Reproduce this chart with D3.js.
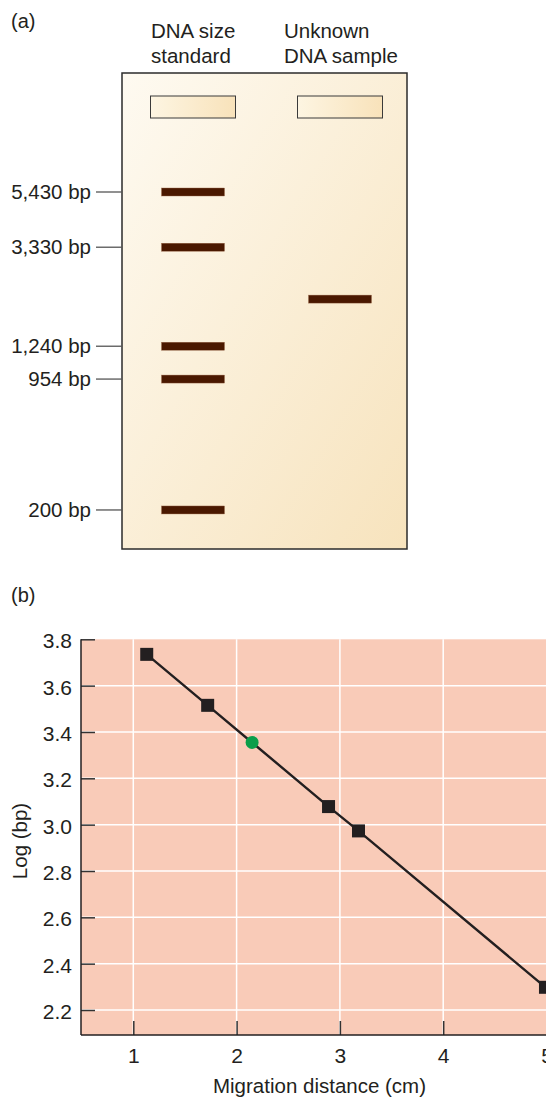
<!DOCTYPE html>
<meta charset="utf-8">
<script src="https://cdn.jsdelivr.net/npm/d3@7"></script>
<style>
  body { margin: 0; background: #fff; }
  svg text { font-family: "Liberation Sans", Arial, Helvetica, sans-serif; fill: #231f20; }
</style>
<div id="chart"></div>
<script>
// ---- data ----
// (a) gel
var lanes = ["DNA size standard", "Unknown DNA sample"];
var laneHeaders = [["DNA size", "standard"], ["Unknown", "DNA sample"]];
var standardLabels = ["5,430 bp", "3,330 bp", "1,240 bp", "954 bp", "200 bp"];
// band position along the gel, % of gel length from the top
var standardGelPos = [25.0, 36.6, 57.4, 64.3, 91.8];
var unknownGelPos = [47.5];

// (b) standard curve
var standardDist = [1.13, 1.72, 2.89, 3.18, 4.99];   // cm
var standardLog = [3.735, 3.515, 3.078, 2.973, 2.298]; // log(bp)
var unknownDist = [2.15];
var unknownLog = [3.355];
var yTicks = [2.2, 2.4, 2.6, 2.8, 3.0, 3.2, 3.4, 3.6, 3.8];
var xTicks = [1, 2, 3, 4, 5];

// ---- setup ----
var W = 546, H = 1097;
var svg = d3.select("#chart").append("svg")
    .attr("width", W)
    .attr("height", H);

var defs = svg.append("defs");
var gelGrad = defs.append("linearGradient").attr("id", "gelGrad")
    .attr("x1", "0").attr("y1", "0").attr("x2", "1").attr("y2", "1");
gelGrad.append("stop").attr("offset", "0").attr("stop-color", "#fefaf1");
gelGrad.append("stop").attr("offset", "1").attr("stop-color", "#f7e3bd");

var wellGrad = defs.append("linearGradient").attr("id", "wellGrad")
    .attr("x1", "0").attr("y1", "0").attr("x2", "1").attr("y2", "0");
wellGrad.append("stop").attr("offset", "0").attr("stop-color", "#fdf5e2");
wellGrad.append("stop").attr("offset", "1").attr("stop-color", "#f8e2ba");

// ---------------- (a) ----------------
var gel = { left: 122, top: 73, right: 407, bottom: 549 };

svg.append("text").attr("x", 11).attr("y", 28).style("font-size", "20px").text("(a)");

var laneX = d3.scalePoint().domain(lanes).range([193, 340]);
var gelY = d3.scaleLinear().domain([0, 100]).range([gel.top, gel.bottom]);

svg.append("rect")
    .attr("x", gel.left).attr("y", gel.top)
    .attr("width", gel.right - gel.left).attr("height", gel.bottom - gel.top)
    .attr("fill", "url(#gelGrad)")
    .attr("stroke", "#2b2b2b").attr("stroke-width", 1.5);

// lane headers
var headerX = [151, 284];
laneHeaders.forEach(function(lines, i) {
    var t = svg.append("text").attr("x", headerX[i]).attr("y", 38).style("font-size", "20.5px");
    lines.forEach(function(s, j) {
        t.append("tspan").attr("x", headerX[i]).attr("dy", j ? 25 : 0).text(s);
    });
});

// wells
svg.selectAll(".well").data(lanes).enter().append("rect")
    .attr("class", "well")
    .attr("x", d => laneX(d) - 42.5).attr("y", 96)
    .attr("width", 85).attr("height", 22)
    .attr("fill", "url(#wellGrad)")
    .attr("stroke", "#3a3a3a").attr("stroke-width", 1);

// bands
function bands(pos, lane) {
    svg.append("g").selectAll("rect").data(pos).enter().append("rect")
        .attr("x", laneX(lane) - 31.5)
        .attr("y", d => gelY(d) - 4)
        .attr("width", 63).attr("height", 8)
        .attr("fill", "#4a1800")
        .attr("stroke", "#9c6a4c").attr("stroke-width", 0.4);
}
bands(standardGelPos, lanes[0]);
bands(unknownGelPos, lanes[1]);

// size labels with leader lines
var lbl = svg.append("g").selectAll("g").data(standardGelPos).enter().append("g");
lbl.append("line")
    .attr("x1", 96).attr("x2", gel.left)
    .attr("y1", d => gelY(d)).attr("y2", d => gelY(d))
    .attr("stroke", "#555").attr("stroke-width", 1.3);
lbl.append("text")
    .attr("x", 91).attr("y", d => gelY(d)).attr("dy", "0.35em")
    .attr("text-anchor", "end")
    .style("font-size", "20.5px")
    .text((d, i) => standardLabels[i]);

// ---------------- (b) ----------------
svg.append("text").attr("x", 11).attr("y", 602).style("font-size", "20px").text("(b)");

var plot = { left: 81, top: 639.3, bottom: 1035, right: W };
var x = d3.scaleLinear().domain([1, 5]).range([133.3, 546.5]);
var y = d3.scaleLinear().domain([2.2, 3.8]).range([1010, 639.3]);

svg.append("rect")
    .attr("x", plot.left).attr("y", plot.top)
    .attr("width", plot.right - plot.left).attr("height", plot.bottom - plot.top)
    .attr("fill", "#f9cbb8");

// grid
var grid = svg.append("g").attr("class", "grid");
grid.selectAll(".hg").data(yTicks.slice(0, -1)).enter().append("line")
    .attr("x1", plot.left).attr("x2", plot.right)
    .attr("y1", d => y(d)).attr("y2", d => y(d))
    .attr("stroke", "#fff").attr("stroke-width", 1.5);
grid.selectAll(".vg").data(xTicks.slice(0, -1)).enter().append("line")
    .attr("x1", d => x(d)).attr("x2", d => x(d))
    .attr("y1", plot.top).attr("y2", plot.bottom)
    .attr("stroke", "#fff").attr("stroke-width", 1.5);

// axes
var yAxis = svg.append("g")
    .attr("transform", "translate(" + plot.left + ",0)")
    .call(d3.axisLeft(y).tickValues(yTicks).tickFormat(d3.format(".1f")).tickSize(-14).tickPadding(9));
var xAxis = svg.append("g")
    .attr("transform", "translate(0," + plot.bottom + ")")
    .call(d3.axisBottom(x).tickValues(xTicks).tickFormat(d3.format("d")).tickSize(-14).tickPadding(13));

[yAxis, xAxis].forEach(function(a) {
    a.select(".domain").remove();
    a.selectAll(".tick line").attr("stroke", "#333").attr("stroke-width", 1.5);
    a.selectAll(".tick text").style("font-size", "21px")
        .style("font-family", '"Liberation Sans", Arial, sans-serif').attr("fill", "#231f20");
});
yAxis.selectAll(".tick text").attr("dy", "0.4em");

svg.append("line")
    .attr("x1", plot.left).attr("x2", plot.left)
    .attr("y1", plot.top).attr("y2", plot.bottom)
    .attr("stroke", "#231f20").attr("stroke-width", 1.5);
svg.append("line")
    .attr("x1", plot.left).attr("x2", plot.right)
    .attr("y1", plot.bottom).attr("y2", plot.bottom)
    .attr("stroke", "#231f20").attr("stroke-width", 1.5);

// standard curve line
var pts = standardDist.map((d, i) => ({ d: d, v: standardLog[i] }));
var line = d3.line().x(p => x(p.d)).y(p => y(p.v));
svg.append("path")
    .datum(pts)
    .attr("d", line)
    .attr("fill", "none")
    .attr("stroke", "#231f20")
    .attr("stroke-width", 2.4);

svg.append("g").selectAll("rect").data(pts).enter().append("rect")
    .attr("x", p => x(p.d) - 6.5).attr("y", p => y(p.v) - 6.5)
    .attr("width", 13).attr("height", 13)
    .attr("fill", "#231f20");

svg.append("g").selectAll("circle").data(unknownDist).enter().append("circle")
    .attr("cx", d => x(d)).attr("cy", (d, i) => y(unknownLog[i]))
    .attr("r", 6.5)
    .attr("fill", "#0a9e4a");

// axis titles
svg.append("text")
    .attr("x", 319.5).attr("y", 1093)
    .attr("text-anchor", "middle")
    .style("font-size", "20.5px")
    .text("Migration distance (cm)");
svg.append("text")
    .attr("transform", "translate(27,841) rotate(-90)")
    .attr("text-anchor", "middle")
    .style("font-size", "20.5px")
    .text("Log (bp)");
</script>
